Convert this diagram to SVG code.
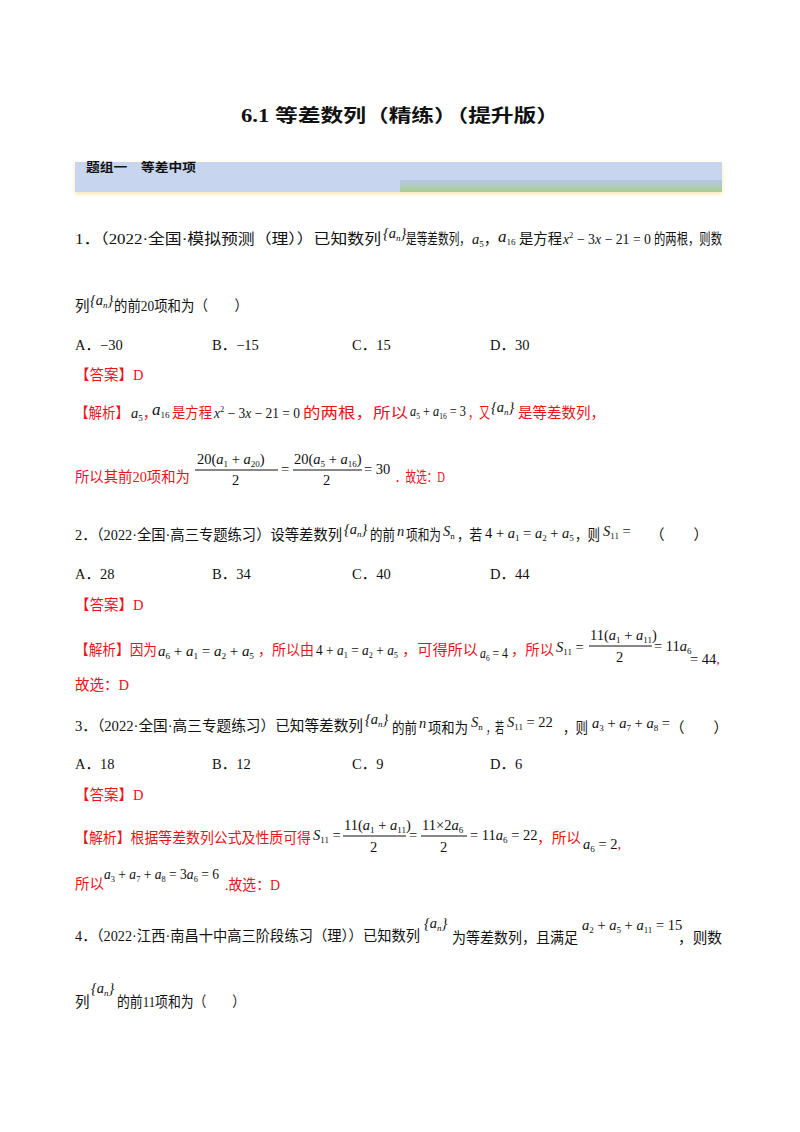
<svg xmlns="http://www.w3.org/2000/svg" width="800" height="1132" viewBox="0 0 800 1132">
<defs>
<linearGradient id="g" x1="0" y1="0" x2="0" y2="1"><stop offset="0" stop-color="#b7c7ea"/><stop offset="1" stop-color="#a8d08d"/></linearGradient>
<filter id="sh" x="-5%" y="-50%" width="110%" height="200%"><feDropShadow dx="0" dy="2" stdDeviation="2" flood-color="#f5d98a" flood-opacity="0.7"/></filter>
</defs>
<style>
text{font-family:"Liberation Serif","Noto Sans CJK SC",serif;font-size:14.5px;fill:#111}
.r{fill:#e8141a}
.i{font-style:italic}
.s{font-size:9px}
.b{font-weight:bold}
</style>
<rect width="800" height="1132" fill="#fff"/>
<text x="400" y="122" text-anchor="middle" class="b" style="font-size:18px" textLength="318" lengthAdjust="spacingAndGlyphs">6.1  等差数列（精练）（提升版）</text>
<rect x="75" y="162" width="647" height="30" fill="#c8d5ee" filter="url(#sh)"/>
<rect x="400" y="180" width="322" height="12" fill="url(#g)"/>
<text x="86" y="172" class="b" style="font-size:12px" textLength="110" lengthAdjust="spacingAndGlyphs">题组一　等差中项</text>

<!-- Q1 -->
<text x="75" y="244" textLength="306" lengthAdjust="spacingAndGlyphs">1．（2022·全国·模拟预测（理））已知数列</text>
<text x="383" y="238" class="i">{a<tspan class="s" dy="3">n</tspan><tspan dy="-3">}</tspan></text>
<text x="406" y="244" textLength="64" lengthAdjust="spacingAndGlyphs">是等差数列，</text>
<text x="472" y="244"><tspan class="i">a</tspan><tspan class="s" dy="3">5</tspan><tspan dy="-3">，</tspan></text>
<text x="498" y="242" style="font-size:17px"><tspan class="i">a</tspan><tspan class="s" dy="3">16</tspan></text>
<text x="519" y="244" textLength="43" lengthAdjust="spacingAndGlyphs">是方程</text>
<text x="563" y="244" textLength="88" lengthAdjust="spacingAndGlyphs"><tspan class="i">x</tspan><tspan class="s" dy="-6">2</tspan><tspan dy="6"> − 3</tspan><tspan class="i">x</tspan> − 21 = 0</text>
<text x="654" y="244" textLength="68" lengthAdjust="spacingAndGlyphs">的两根，则数</text>
<text x="75" y="311">列</text>
<text x="90" y="305" class="i">{a<tspan class="s" dy="3">n</tspan><tspan dy="-3">}</tspan></text>
<text x="114" y="311" textLength="134" lengthAdjust="spacingAndGlyphs">的前20项和为（　　）</text>
<text x="75" y="350">A．−30</text><text x="212" y="350">B．−15</text><text x="352" y="350">C．15</text><text x="490" y="350">D．30</text>
<text x="75" y="380" class="r">【答案】D</text>
<text x="75" y="418" class="r" textLength="54" lengthAdjust="spacingAndGlyphs">【解析】</text>
<text x="131" y="418"><tspan class="i">a</tspan><tspan class="s" dy="3">5</tspan><tspan class="r" dy="-3">，</tspan></text>
<text x="152" y="415" style="font-size:17px"><tspan class="i">a</tspan><tspan class="s" dy="3">16</tspan></text>
<text x="172" y="418" class="r" textLength="40" lengthAdjust="spacingAndGlyphs">是方程</text>
<text x="214" y="418" textLength="86" lengthAdjust="spacingAndGlyphs"><tspan class="i">x</tspan><tspan class="s" dy="-6">2</tspan><tspan dy="6"> − 3</tspan><tspan class="i">x</tspan> − 21 = 0</text>
<text x="303" y="418" class="r" textLength="105" lengthAdjust="spacingAndGlyphs">的两根，所以</text>
<text x="410" y="416" textLength="56" lengthAdjust="spacingAndGlyphs"><tspan class="i">a</tspan><tspan class="s" dy="3">5</tspan><tspan dy="-3"> + </tspan><tspan class="i">a</tspan><tspan class="s" dy="3">16</tspan><tspan dy="-3"> = 3</tspan></text>
<text x="468" y="418" class="r" textLength="22" lengthAdjust="spacingAndGlyphs">，又</text>
<text x="491" y="412" class="i">{a<tspan class="s" dy="3">n</tspan><tspan dy="-3">}</tspan></text>
<text x="518" y="418" class="r" textLength="87" lengthAdjust="spacingAndGlyphs">是等差数列，</text>
<text x="75" y="482" class="r" textLength="115" lengthAdjust="spacingAndGlyphs">所以其前20项和为</text>
<text x="197" y="464">20(<tspan class="i">a</tspan><tspan class="s" dy="3">1</tspan><tspan dy="-3"> + </tspan><tspan class="i">a</tspan><tspan class="s" dy="3">20</tspan><tspan dy="-3">)</tspan></text>
<line x1="195" y1="470" x2="278" y2="470" stroke="#111"/>
<text x="232" y="485">2</text>
<text x="281" y="474">=</text>
<text x="294" y="464">20(<tspan class="i">a</tspan><tspan class="s" dy="3">5</tspan><tspan dy="-3"> + </tspan><tspan class="i">a</tspan><tspan class="s" dy="3">16</tspan><tspan dy="-3">)</tspan></text>
<line x1="293" y1="470" x2="362" y2="470" stroke="#111"/>
<text x="323" y="485">2</text>
<text x="364" y="474">= 30</text>
<text x="395" y="482" class="r" textLength="50" lengthAdjust="spacingAndGlyphs">．故选：D</text>

<!-- Q2 -->
<text x="75" y="540" textLength="267" lengthAdjust="spacingAndGlyphs">2．（2022·全国·高三专题练习）设等差数列</text>
<text x="344" y="534" class="i">{a<tspan class="s" dy="3">n</tspan><tspan dy="-3">}</tspan></text>
<text x="370" y="540" textLength="25" lengthAdjust="spacingAndGlyphs">的前</text>
<text x="397" y="536" class="i">n</text>
<text x="406" y="540" textLength="35" lengthAdjust="spacingAndGlyphs">项和为</text>
<text x="443" y="536"><tspan class="i">S</tspan><tspan class="s" dy="3">n</tspan></text>
<text x="457" y="540" textLength="25" lengthAdjust="spacingAndGlyphs">，若</text>
<text x="485" y="538">4 + <tspan class="i">a</tspan><tspan class="s" dy="3">1</tspan><tspan dy="-3"> = </tspan><tspan class="i">a</tspan><tspan class="s" dy="3">2</tspan><tspan dy="-3"> + </tspan><tspan class="i">a</tspan><tspan class="s" dy="3">5</tspan></text>
<text x="575" y="540" textLength="25" lengthAdjust="spacingAndGlyphs">，则</text>
<text x="603" y="536"><tspan class="i">S</tspan><tspan class="s" dy="3">11</tspan><tspan dy="-3"> =</tspan></text>
<text x="650" y="540">（　　）</text>
<text x="75" y="579">A．28</text><text x="212" y="579">B．34</text><text x="352" y="579">C．40</text><text x="490" y="579">D．44</text>
<text x="75" y="610" class="r">【答案】D</text>
<text x="75" y="655" class="r" textLength="82" lengthAdjust="spacingAndGlyphs">【解析】因为</text>
<text x="158" y="656" textLength="96" lengthAdjust="spacingAndGlyphs"><tspan class="i">a</tspan><tspan class="s" dy="3">6</tspan><tspan dy="-3"> + </tspan><tspan class="i">a</tspan><tspan class="s" dy="3">1</tspan><tspan dy="-3"> = </tspan><tspan class="i">a</tspan><tspan class="s" dy="3">2</tspan><tspan dy="-3"> + </tspan><tspan class="i">a</tspan><tspan class="s" dy="3">5</tspan></text>
<text x="258" y="655" class="r" textLength="56" lengthAdjust="spacingAndGlyphs">，所以由</text>
<text x="316" y="655" textLength="82" lengthAdjust="spacingAndGlyphs">4 + <tspan class="i">a</tspan><tspan class="s" dy="3">1</tspan><tspan dy="-3"> = </tspan><tspan class="i">a</tspan><tspan class="s" dy="3">2</tspan><tspan dy="-3"> + </tspan><tspan class="i">a</tspan><tspan class="s" dy="3">5</tspan></text>
<text x="402" y="655" class="r" textLength="76" lengthAdjust="spacingAndGlyphs">，可得所以</text>
<text x="480" y="658" textLength="28" lengthAdjust="spacingAndGlyphs"><tspan class="i">a</tspan><tspan class="s" dy="3">6</tspan><tspan dy="-3"> = 4</tspan></text>
<text x="511" y="655" class="r" textLength="43" lengthAdjust="spacingAndGlyphs">，所以</text>
<text x="556" y="652"><tspan class="i">S</tspan><tspan class="s" dy="3">11</tspan><tspan dy="-3"> =</tspan></text>
<text x="590" y="640">11(<tspan class="i">a</tspan><tspan class="s" dy="3">1</tspan><tspan dy="-3"> + </tspan><tspan class="i">a</tspan><tspan class="s" dy="3">11</tspan><tspan dy="-3">)</tspan></text>
<line x1="589" y1="646" x2="652" y2="646" stroke="#111"/>
<text x="616" y="662">2</text>
<text x="654" y="651">= 11<tspan class="i">a</tspan><tspan class="s" dy="3">6</tspan></text>
<text x="690" y="664">= 44<tspan class="r">,</tspan></text>
<text x="75" y="690" class="r">故选：D</text>

<!-- Q3 -->
<text x="75" y="731" textLength="288" lengthAdjust="spacingAndGlyphs">3．（2022·全国·高三专题练习）已知等差数列</text>
<text x="365" y="724" class="i">{a<tspan class="s" dy="3">n</tspan><tspan dy="-3">}</tspan></text>
<text x="392" y="733" textLength="25" lengthAdjust="spacingAndGlyphs">的前</text>
<text x="419" y="728" class="i">n</text>
<text x="428" y="733" textLength="40" lengthAdjust="spacingAndGlyphs">项和为</text>
<text x="471" y="727"><tspan class="i">S</tspan><tspan class="s" dy="3">n</tspan></text>
<text x="486" y="733" textLength="18" lengthAdjust="spacingAndGlyphs">，若</text>
<text x="507" y="727"><tspan class="i">S</tspan><tspan class="s" dy="3">11</tspan><tspan dy="-3"> = 22</tspan></text>
<text x="563" y="733" textLength="25" lengthAdjust="spacingAndGlyphs">，则</text>
<text x="592" y="728"><tspan class="i">a</tspan><tspan class="s" dy="3">3</tspan><tspan dy="-3"> + </tspan><tspan class="i">a</tspan><tspan class="s" dy="3">7</tspan><tspan dy="-3"> + </tspan><tspan class="i">a</tspan><tspan class="s" dy="3">8</tspan><tspan dy="-3"> =</tspan></text>
<text x="670" y="733">（　　）</text>
<text x="75" y="769">A．18</text><text x="212" y="769">B．12</text><text x="352" y="769">C．9</text><text x="490" y="769">D．6</text>
<text x="75" y="800" class="r">【答案】D</text>
<text x="75" y="843" class="r" textLength="236" lengthAdjust="spacingAndGlyphs">【解析】根据等差数列公式及性质可得</text>
<text x="313" y="840"><tspan class="i">S</tspan><tspan class="s" dy="3">11</tspan><tspan dy="-3"> =</tspan></text>
<text x="344" y="830">11(<tspan class="i">a</tspan><tspan class="s" dy="3">1</tspan><tspan dy="-3"> + </tspan><tspan class="i">a</tspan><tspan class="s" dy="3">11</tspan><tspan dy="-3">)</tspan></text>
<line x1="343" y1="836" x2="406" y2="836" stroke="#111"/>
<text x="370" y="852">2</text>
<text x="409" y="840">=</text>
<text x="422" y="830">11×2<tspan class="i">a</tspan><tspan class="s" dy="3">6</tspan></text>
<line x1="421" y1="836" x2="467" y2="836" stroke="#111"/>
<text x="440" y="852">2</text>
<text x="470" y="840">= 11<tspan class="i">a</tspan><tspan class="s" dy="3">6</tspan><tspan dy="-3"> = 22</tspan></text>
<text x="537" y="843" class="r" textLength="44" lengthAdjust="spacingAndGlyphs">，所以</text>
<text x="583" y="849"><tspan class="i">a</tspan><tspan class="s" dy="3">6</tspan><tspan dy="-3"> = 2</tspan><tspan class="r">,</tspan></text>
<text x="75" y="889" class="r">所以</text>
<text x="104" y="879" textLength="115" lengthAdjust="spacingAndGlyphs"><tspan class="i">a</tspan><tspan class="s" dy="3">3</tspan><tspan dy="-3"> + </tspan><tspan class="i">a</tspan><tspan class="s" dy="3">7</tspan><tspan dy="-3"> + </tspan><tspan class="i">a</tspan><tspan class="s" dy="3">8</tspan><tspan dy="-3"> = 3</tspan><tspan class="i">a</tspan><tspan class="s" dy="3">6</tspan><tspan dy="-3"> = 6</tspan></text>
<text x="225" y="890" class="r" textLength="55" lengthAdjust="spacingAndGlyphs">.故选：D</text>

<!-- Q4 -->
<text x="75" y="941" textLength="345" lengthAdjust="spacingAndGlyphs">4．（2022·江西·南昌十中高三阶段练习（理））已知数列</text>
<text x="424" y="928" class="i">{a<tspan class="s" dy="3">n</tspan><tspan dy="-3">}</tspan></text>
<text x="452" y="943" textLength="126" lengthAdjust="spacingAndGlyphs">为等差数列，且满足</text>
<text x="582" y="930"><tspan class="i">a</tspan><tspan class="s" dy="3">2</tspan><tspan dy="-3"> + </tspan><tspan class="i">a</tspan><tspan class="s" dy="3">5</tspan><tspan dy="-3"> + </tspan><tspan class="i">a</tspan><tspan class="s" dy="3">11</tspan><tspan dy="-3"> = 15</tspan></text>
<text x="678" y="943" textLength="44" lengthAdjust="spacingAndGlyphs">，则数</text>
<text x="75" y="1007">列</text>
<text x="91" y="993" class="i">{a<tspan class="s" dy="3">n</tspan><tspan dy="-3">}</tspan></text>
<text x="117" y="1007" textLength="128" lengthAdjust="spacingAndGlyphs">的前11项和为（　　）</text>
</svg>
